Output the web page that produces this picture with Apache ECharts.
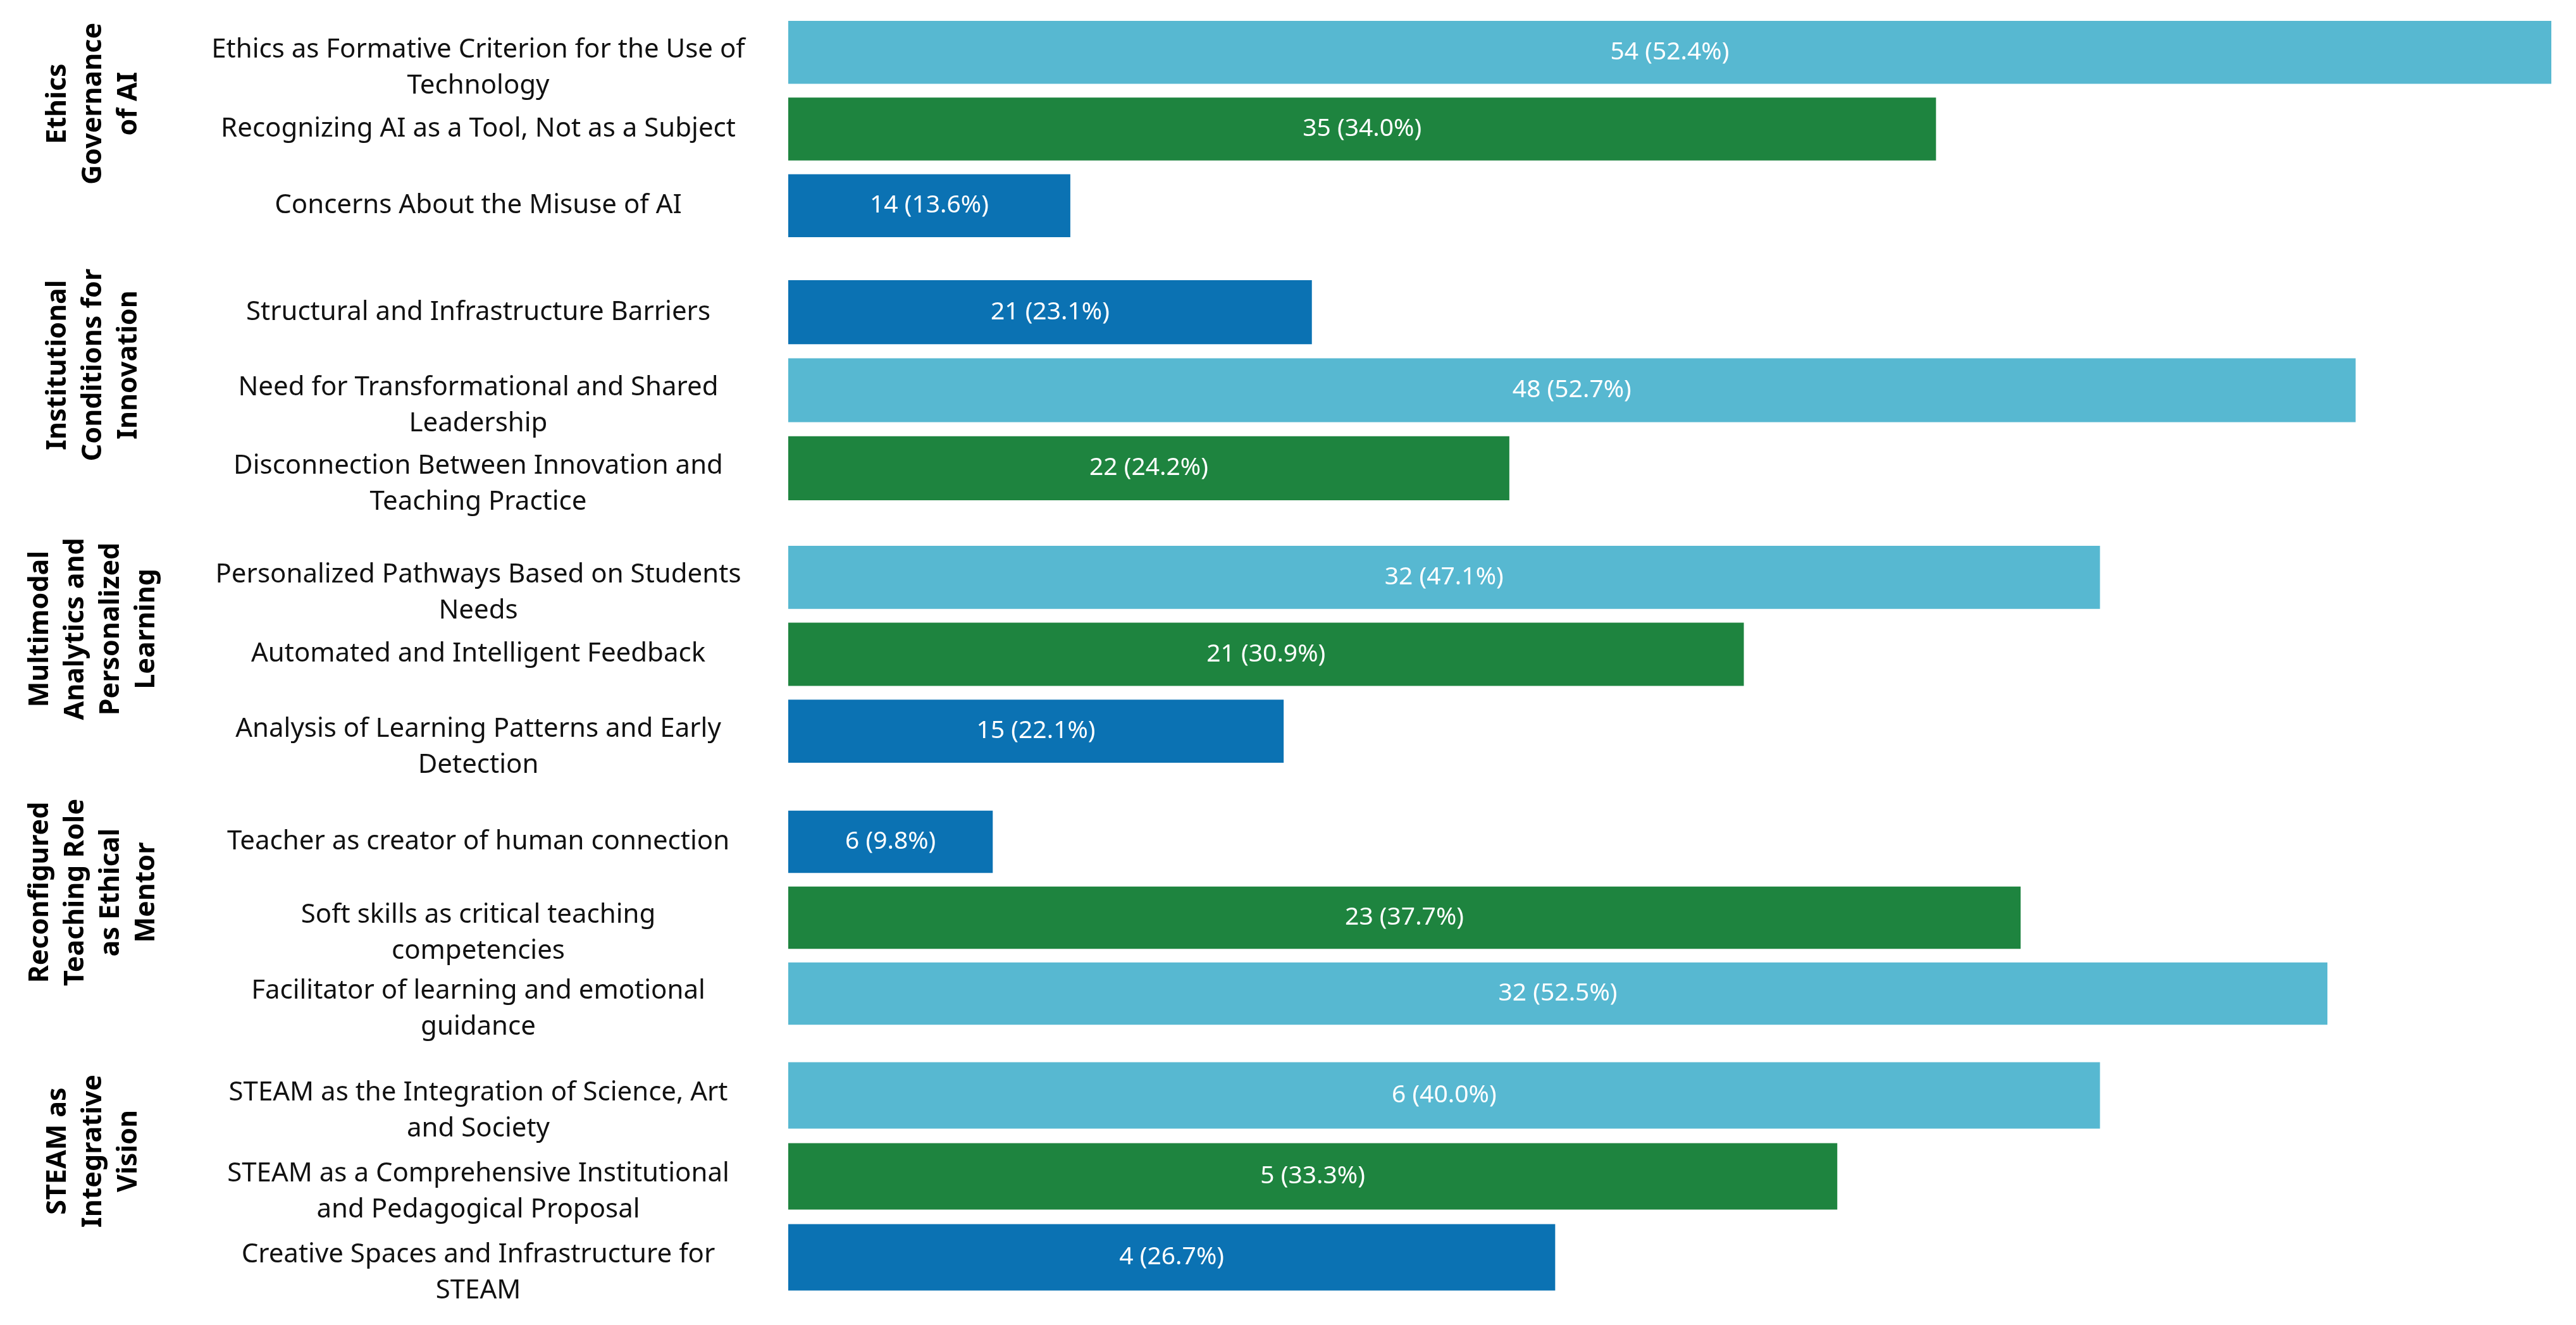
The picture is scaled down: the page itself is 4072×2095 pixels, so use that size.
<!DOCTYPE html>
<html>
<head>
<meta charset="utf-8">
<title>Themes and subthemes</title>
<script src="https://cdn.jsdelivr.net/npm/echarts@6/dist/echarts.min.js"></script>
<style>
  html, body { margin: 0; padding: 0; background: #fff; }
  #chart { width: 4072px; height: 2095px; }
</style>
</head>
<body>
<div id="chart"></div>
<script>
// themes (rotated titles on the left)
const themes = [
  'Ethics\nGovernance\nof AI',
  'Institutional\nConditions for\nInnovation',
  'Multimodal\nAnalytics and\nPersonalized\nLearning',
  'Reconfigured\nTeaching Role\nas Ethical\nMentor',
  'STEAM as\nIntegrative\nVision'
];

// subthemes per theme
const subthemes = [
  ['Ethics as Formative Criterion for the Use of\nTechnology', 'Recognizing AI as a Tool, Not as a Subject', 'Concerns About the Misuse of AI'],
  ['Structural and Infrastructure Barriers', 'Need for Transformational and Shared\nLeadership', 'Disconnection Between Innovation and\nTeaching Practice'],
  ['Personalized Pathways Based on Students\nNeeds', 'Automated and Intelligent Feedback', 'Analysis of Learning Patterns and Early\nDetection'],
  ['Teacher as creator of human connection', 'Soft skills as critical teaching\ncompetencies', 'Facilitator of learning and emotional\nguidance'],
  ['STEAM as the Integration of Science, Art\nand Society', 'STEAM as a Comprehensive Institutional\nand Pedagogical Proposal', 'Creative Spaces and Infrastructure for\nSTEAM']
];

// counts and percentages written on the bars
const counts = [
  [54, 35, 14],
  [21, 48, 22],
  [32, 21, 15],
  [6, 23, 32],
  [6, 5, 4]
];
const percents = [
  [52.4, 34.0, 13.6],
  [23.1, 52.7, 24.2],
  [47.1, 30.9, 22.1],
  [9.8, 37.7, 52.5],
  [40.0, 33.3, 26.7]
];

// bar lengths as drawn in the picture (longest bar = 100), they do not follow the counts
const barLength = [
  [100, 65.1, 16.0],
  [29.7, 88.9, 40.9],
  [74.4, 54.2, 28.1],
  [11.6, 69.9, 87.3],
  [74.4, 59.5, 43.5]
];

// longest bar of a theme light blue, middle green, shortest dark blue
const rankColors = ['#57b8d1', '#1e843f', '#0b72b3'];

// vertical band of each theme (px)
const bands = [
  { top: 22, height: 364 },
  { top: 432, height: 370 },
  { top: 852, height: 365 },
  { top: 1271, height: 360 },
  { top: 1668, height: 384 }
];

const plotLeft = 1246;
const plotRight = 39;
const labelCenterX = 756;
const titleCenterX = 148;
const titleLine = 56;

const chart = echarts.init(document.getElementById('chart'), null, { renderer: 'canvas' });

const grid = [], xAxis = [], yAxis = [], series = [];

// wrapped labels sit a little lower than the bar centre, as in the original
function labelFormatter(value) {
  if (value.indexOf('\n') < 0) return value;
  return '{gap| }\n' + value;
}

themes.forEach(function (theme, g) {
  grid.push({
    left: plotLeft,
    right: plotRight,
    top: bands[g].top,
    height: bands[g].height,
    containLabel: false,
    outerBoundsMode: 'none'
  });
  xAxis.push({
    type: 'value',
    gridIndex: g,
    min: 0,
    max: 100,
    show: false
  });
  const nLines = theme.split('\n').length;
  yAxis.push({
    type: 'category',
    gridIndex: g,
    inverse: true,
    data: subthemes[g],
    axisLine: { show: false },
    axisTick: { show: false },
    splitLine: { show: false },
    axisLabel: {
      interval: 0,
      hideOverlap: false,
      margin: plotLeft - labelCenterX,
      align: 'center',
      fontFamily: 'Noto Sans',
      fontSize: 42,
      lineHeight: 57,
      color: '#111',
      formatter: labelFormatter,
      rich: {
        gap: { fontSize: 10, lineHeight: 50 }
      }
    },
    name: theme,
    nameLocation: 'middle',
    nameRotate: 90,
    nameGap: plotLeft - titleCenterX - nLines * titleLine / 2,
    nameTextStyle: {
      fontFamily: 'Noto Sans',
      fontWeight: 'bold',
      fontSize: 43,
      lineHeight: titleLine,
      color: '#000',
      padding: [0, 0, 0, 80]
    }
  });

  const sorted = barLength[g].slice().sort(function (a, b) { return b - a; });
  series.push({
    type: 'bar',
    xAxisIndex: g,
    yAxisIndex: g,
    barCategoryGap: '18%',
    data: barLength[g].map(function (v) {
      return {
        value: v,
        itemStyle: { color: rankColors[sorted.indexOf(v)] }
      };
    }),
    label: {
      show: true,
      position: 'inside',
      color: '#fff',
      fontFamily: 'Noto Sans',
      fontSize: 39,
      formatter: function (p) {
        return counts[g][p.dataIndex] + ' (' + percents[g][p.dataIndex].toFixed(1) + '%)';
      }
    },
    silent: true
  });
});

chart.setOption({
  animation: false,
  backgroundColor: '#fff',
  grid: grid,
  xAxis: xAxis,
  yAxis: yAxis,
  series: series
});
</script>
</body>
</html>
